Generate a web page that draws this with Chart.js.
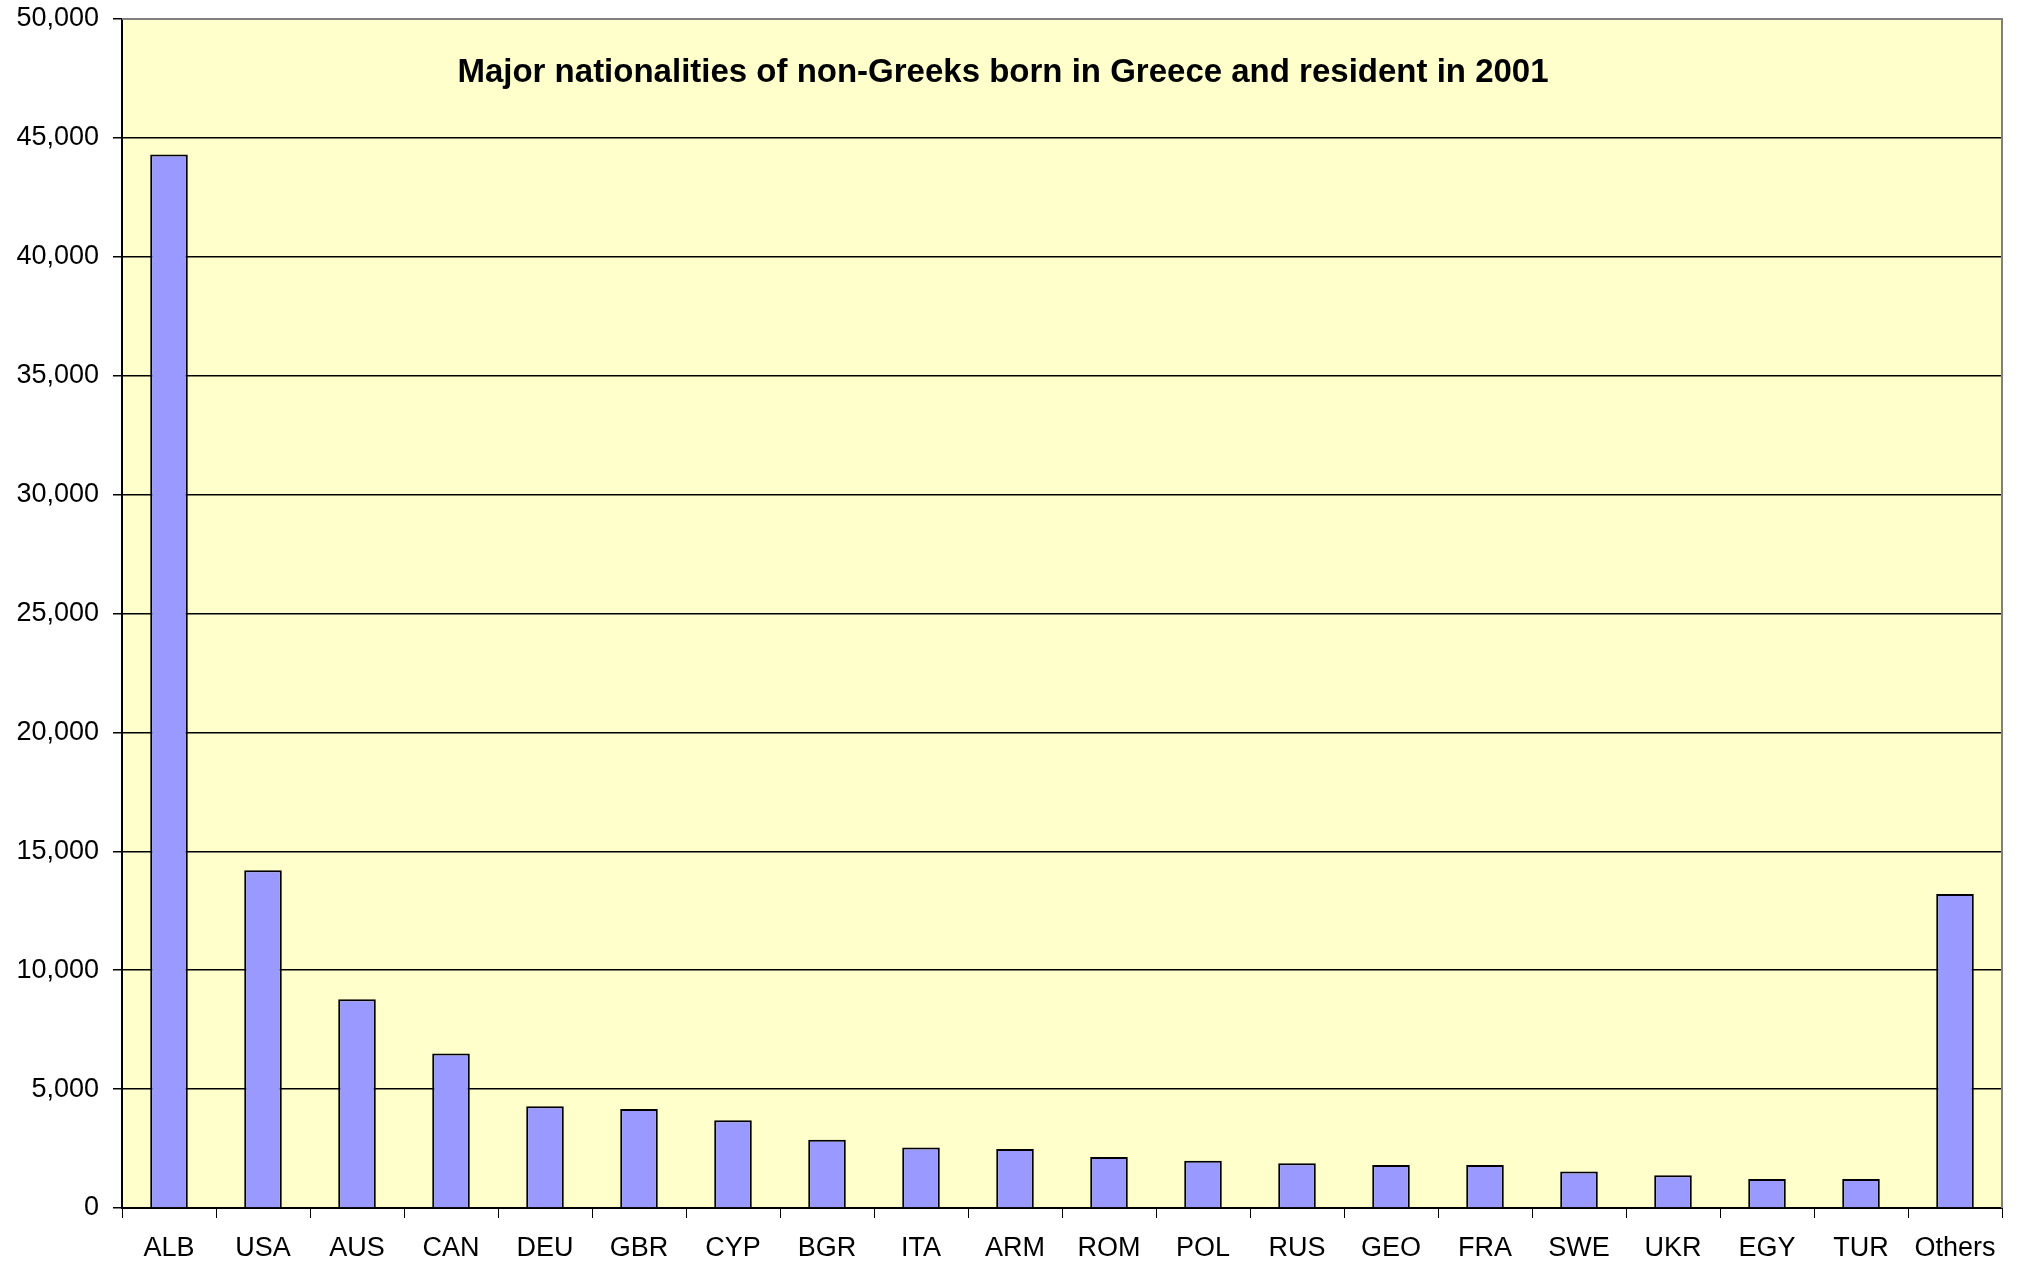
<!DOCTYPE html>
<html>
<head>
<meta charset="utf-8">
<script src="https://cdn.jsdelivr.net/npm/chart.js@4.4.1/dist/chart.umd.min.js"></script>
<style>
  html, body { margin: 0; padding: 0; background: #ffffff; }
  #wrap { width: 2021px; height: 1275px; position: relative; }
</style>
</head>
<body>
<div id="wrap"><canvas id="c" width="2021" height="1275"></canvas></div>
<script>
const chartTitle = 'Major nationalities of non-Greeks born in Greece and resident in 2001';
const categories = ['ALB','USA','AUS','CAN','DEU','GBR','CYP','BGR','ITA','ARM','ROM','POL','RUS','GEO','FRA','SWE','UKR','EGY','TUR','Others'];
const residents = [44300, 14200, 8780, 6500, 4280, 4160, 3690, 2870, 2540, 2480, 2140, 1990, 1880, 1810, 1810, 1540, 1380, 1220, 1220, 13200];
const yTicks = [0, 5000, 10000, 15000, 20000, 25000, 30000, 35000, 40000, 45000, 50000];

const plotBg = {
  id: 'plotBg',
  beforeDraw(chart) {
    const {ctx, chartArea: a} = chart;
    ctx.save();
    ctx.fillStyle = '#FFFFCC';
    ctx.fillRect(a.left, a.top, a.right - a.left, a.bottom - a.top);
    ctx.restore();
  },
  afterDraw(chart) {
    const {ctx, chartArea: a} = chart;
    ctx.save();
    ctx.strokeStyle = '#808080';
    ctx.lineWidth = 2;
    ctx.beginPath();
    ctx.moveTo(a.left, a.top);
    ctx.lineTo(a.right, a.top);
    ctx.lineTo(a.right, a.bottom);
    ctx.stroke();
    ctx.fillStyle = '#000';
    ctx.font = 'bold 33px "Liberation Sans", Arial, sans-serif';
    ctx.textAlign = 'center';
    ctx.textBaseline = 'middle';
    ctx.fillText(chartTitle, 1003, 73);
    ctx.restore();
  }
};

new Chart(document.getElementById('c'), {
  type: 'bar',
  data: {
    labels: categories,
    datasets: [{
      data: residents,
      backgroundColor: '#9999FF',
      borderColor: '#000000',
      borderWidth: 2,
      barPercentage: 0.4,
      categoryPercentage: 1.0
    }]
  },
  options: {
    responsive: false,
    animation: false,
    devicePixelRatio: 1,
    layout: { padding: { top: 19, right: 19, left: 0, bottom: 0 } },
    plugins: { legend: { display: false }, tooltip: { enabled: false }, title: { display: false } },
    scales: {
      x: {
        grid: { display: true, drawOnChartArea: false, drawTicks: true, tickLength: 10, color: '#000', offset: true },
        border: { display: true, color: '#000', width: 2 },
        ticks: { color: '#000', font: { family: '"Liberation Sans", Arial, sans-serif', size: 27 }, padding: 14, maxRotation: 0, autoSkip: false },
        afterFit(s) { s.height = 67; s.paddingLeft = 0; s.paddingRight = 0; }
      },
      y: {
        min: 0, max: 50000,
        afterBuildTicks(s) { s.ticks = yTicks.map(v => ({ value: v })); },
        grid: { color: '#000', lineWidth: 1.5, tickLength: 9, drawTicks: true },
        border: { display: true, color: '#000', width: 2 },
        ticks: {
          color: '#000',
          font: { family: '"Liberation Sans", Arial, sans-serif', size: 27 },
          padding: 14,
          callback: v => v.toLocaleString('en-US')
        },
        afterFit(s) { s.width = 122; s.paddingTop = 0; s.paddingBottom = 0; }
      }
    }
  },
  plugins: [plotBg]
});
</script>
</body>
</html>
